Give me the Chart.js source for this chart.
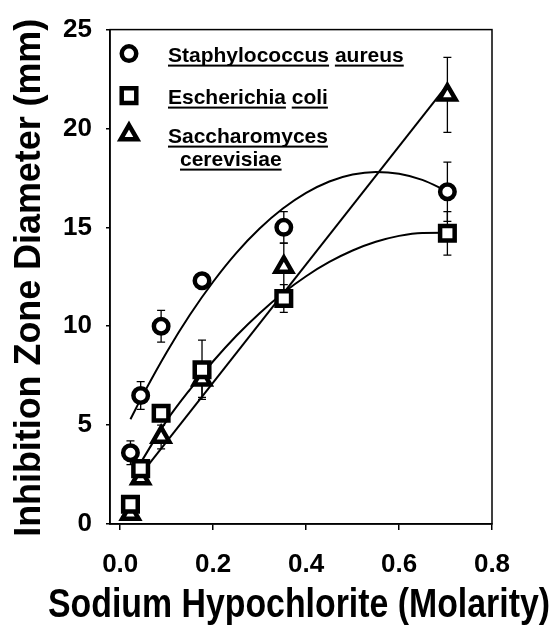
<!DOCTYPE html>
<html><head><meta charset="utf-8">
<script src="https://cdn.jsdelivr.net/npm/chart.js@4/dist/chart.umd.min.js"></script>
<style>html,body{margin:0;padding:0;background:#fff;}#wrap{width:557px;height:632px;position:relative;}</style>
</head><body><div id="wrap"><canvas id="c" width="557" height="632"></canvas></div>
<script>
// ---- data ----
const concentrations = [0.022, 0.044, 0.088, 0.176, 0.352, 0.704];
const staphMean = [3.6, 6.5, 10.0, 12.3, 15.0, 16.8];
const staphErr  = [0.6, 0.7, 0.8, 0.3, 0.8, 1.5];
const ecoliMean = [1.0, 2.8, 5.6, 7.8, 11.4, 14.7];
const ecoliErr  = [0.3, 0.3, 0.3, 1.5, 0.7, 1.1];
const yeastMean = [0.5, 2.3, 4.4, 7.3, 13.0, 21.7];
const yeastErr  = [0.3, 0.3, 0.6, 0.9, 1.2, 1.9];

// fitted curves
const staphFitX = [0.022, 0.05, 0.1, 0.15, 0.2, 0.25, 0.3, 0.35, 0.4, 0.45, 0.5, 0.55, 0.6, 0.65, 0.704];
const staphFitY = [5.30, 6.58, 8.69, 10.58, 12.25, 13.71, 14.94, 15.95, 16.74, 17.32, 17.67, 17.80, 17.71, 17.40, 16.82];
const ecoliFitX = [0.044, 0.1, 0.15, 0.2, 0.25, 0.3, 0.35, 0.4, 0.45, 0.5, 0.55, 0.6, 0.65, 0.704];
const ecoliFitY = [3.10, 5.23, 6.80, 8.23, 9.52, 10.66, 11.67, 12.53, 13.25, 13.83, 14.27, 14.57, 14.72, 14.73];
const yeastFitX = [0.044, 0.704];
const yeastFitY = [2.5, 22.2];

const xTicks = [0.0, 0.2, 0.4, 0.6, 0.8];
const yTicks = [0, 5, 10, 15, 20, 25];
const seriesNames = [["Staphylococcus aureus"], ["Escherichia coli"], ["Saccharomyces", "cerevisiae"]];
const xTitle = "Sodium Hypochlorite (Molarity)";
const yTitle = "Inhibition Zone Diameter (mm)";

// ---- styling ----
const FONT = "'Liberation Sans', Arial, sans-serif";
const markerStyles = [
  {style: 'circle', r: 7.25},
  {style: 'rect', r: 10.3},
  {style: 'triangle', r: 9.5}
];
const MB = 4.5;

const pts = (xs, ys) => xs.map((x, i) => ({x: x, y: ys[i]}));
const markerSet = (means, k) => ({
  data: pts(concentrations, means), showLine: false,
  pointStyle: markerStyles[k].style, pointRadius: markerStyles[k].r, pointHoverRadius: markerStyles[k].r,
  pointBorderWidth: MB, borderColor: '#000', backgroundColor: '#fff', order: 0
});
const fitSet = (xs, ys) => ({
  data: pts(xs, ys), showLine: true, pointRadius: 0, borderColor: '#000', borderWidth: 2,
  fill: false, cubicInterpolationMode: 'monotone', order: 5
});

const errorGroups = [[staphMean, staphErr], [ecoliMean, ecoliErr], [yeastMean, yeastErr]];

const errorBars = {
  id: 'errorBars',
  beforeDatasetsDraw(chart) {
    const {ctx, scales: {x, y}} = chart;
    ctx.save();
    ctx.strokeStyle = '#000';
    ctx.lineWidth = 1.3;
    errorGroups.forEach(([m, e]) => {
      concentrations.forEach((c, i) => {
        const px = x.getPixelForValue(c);
        const t = y.getPixelForValue(m[i] + e[i]);
        const b = y.getPixelForValue(m[i] - e[i]);
        ctx.beginPath();
        ctx.moveTo(px, t); ctx.lineTo(px, b);
        ctx.moveTo(px - 4, t); ctx.lineTo(px + 4, t);
        ctx.moveTo(px - 4, b); ctx.lineTo(px + 4, b);
        ctx.stroke();
      });
    });
    ctx.restore();
  }
};

const frame = {
  id: 'frame',
  afterDraw(chart) {
    const {ctx, chartArea: a} = chart;
    ctx.save();
    ctx.strokeStyle = '#000';
    ctx.lineWidth = 1.5;
    ctx.strokeRect(a.left, a.top, a.right - a.left, a.bottom - a.top);
    ctx.restore();
  }
};

// axis titles (wider than the plot area, as in the reference)
const axisTitles = {
  id: 'axisTitles',
  afterDraw(chart) {
    const ctx = chart.ctx;
    const a = chart.chartArea;
    ctx.save();
    ctx.fillStyle = '#000';
    ctx.textAlign = 'center';
    ctx.textBaseline = 'alphabetic';
    ctx.font = "bold 40px " + FONT;
    ctx.fillText(xTitle, (a.left + a.right) / 2 - 2, 617, 502);
    ctx.translate(40, (a.top + a.bottom) / 2 + 1);
    ctx.rotate(-Math.PI / 2);
    ctx.font = "bold 36px " + FONT;
    ctx.fillText(yTitle, 0, 0, 518);
    ctx.restore();
  }
};

const legendBox = {
  id: 'legendBox',
  afterDraw(chart) {
    const ctx = chart.ctx;
    const a = chart.chartArea;
    const mx = a.left + 19;
    const rowY = [a.top + 24, a.top + 66, a.top + 105];
    const tx = a.left + 58;
    ctx.save();
    ctx.strokeStyle = '#000'; ctx.lineWidth = MB;
    markerStyles.forEach((m, k) => {
      ctx.fillStyle = '#fff';
      Chart.helpers.drawPoint(ctx, {pointStyle: m.style, radius: m.r, borderWidth: MB, rotation: 0}, mx, rowY[k]);
    });
    ctx.fillStyle = '#000';
    ctx.font = "bold 21px " + FONT;
    ctx.textBaseline = 'alphabetic';
    const sp = ctx.measureText(' ').width;
    seriesNames.forEach((lines, k) => {
      lines.forEach((line, j) => {
        let x = tx + (j > 0 ? 12 : 0);
        const base = rowY[k] + 8 + j * 23;
        line.split(' ').forEach(w => {
          ctx.fillText(w, x, base);
          const ww = ctx.measureText(w).width;
          ctx.fillRect(x, base + 3, ww, 2);
          x += ww + sp;
        });
      });
    });
    ctx.restore();
  }
};

new Chart(document.getElementById('c'), {
  type: 'scatter',
  data: {
    datasets: [
      markerSet(staphMean, 0),
      markerSet(ecoliMean, 1),
      markerSet(yeastMean, 2),
      fitSet(staphFitX, staphFitY),
      fitSet(ecoliFitX, ecoliFitY),
      fitSet(yeastFitX, yeastFitY)
    ]
  },
  options: {
    responsive: false, animation: false, devicePixelRatio: 1,
    layout: {padding: {top: 22, right: 65, bottom: 0, left: 0}},
    plugins: {legend: {display: false}, tooltip: {enabled: false}},
    scales: {
      x: {
        type: 'linear', position: 'bottom', min: -0.022, max: 0.8,
        afterBuildTicks: s => { s.ticks = xTicks.map(v => ({value: v})); },
        afterFit: s => { s.height = 108; },
        ticks: {callback: v => Number(v).toFixed(1), font: {family: FONT, size: 26, weight: 'bold'}, color: '#000', padding: 19, maxRotation: 0, autoSkip: false},
        grid: {display: true, drawOnChartArea: false, drawTicks: true, tickLength: 6, color: '#000', lineWidth: 1.5},
        border: {display: true, color: '#000', width: 1.5},
        title: {display: false}
      },
      y: {
        type: 'linear', min: 0, max: 25,
        afterBuildTicks: s => { s.ticks = yTicks.map(v => ({value: v})); },
        afterFit: s => { s.width = 110; },
        ticks: {callback: v => String(v), font: {family: FONT, size: 26, weight: 'bold'}, color: '#000', padding: 14},
        grid: {display: true, drawOnChartArea: false, drawTicks: true, tickLength: 4, color: '#000', lineWidth: 1.5},
        border: {display: true, color: '#000', width: 1.5},
        title: {display: false}
      }
    }
  },
  plugins: [errorBars, frame, axisTitles, legendBox]
});
</script></body></html>
